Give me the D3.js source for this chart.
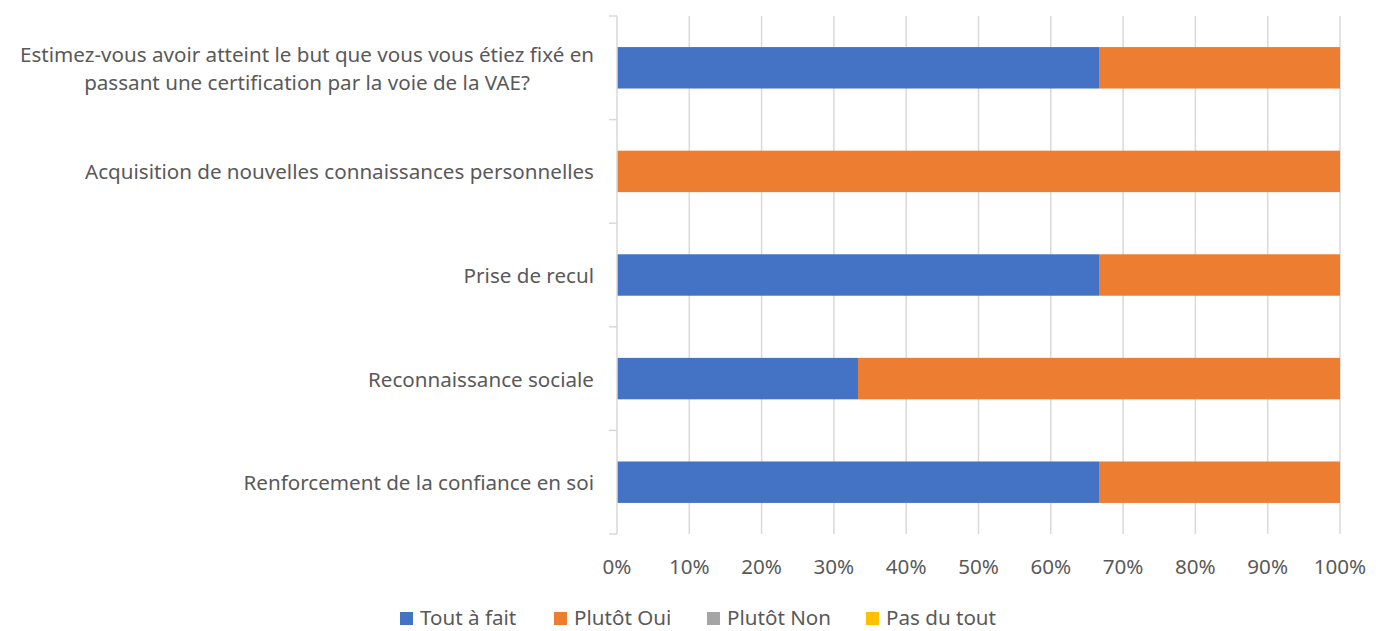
<!DOCTYPE html>
<html>
<head>
<meta charset="utf-8">
<script src="https://cdn.jsdelivr.net/npm/d3@7"></script>
<style>
  body { margin: 0; background: #fff; }
  svg { display: block; font-family: 'Noto Sans', 'Open Sans', sans-serif; }
</style>
</head>
<body>
<div id="chart"></div>
<script>
// categories, top to bottom
const categories = [
  ["Estimez-vous avoir atteint le but que vous vous étiez fixé en", "passant une certification par la voie de la VAE?"],
  ["Acquisition de nouvelles connaissances personnelles"],
  ["Prise de recul"],
  ["Reconnaissance sociale"],
  ["Renforcement de la confiance en soi"]
];
const seriesNames = ["Tout à fait", "Plutôt Oui", "Plutôt Non", "Pas du tout"];
const seriesColors = ["#4472c4", "#ed7d31", "#a5a5a5", "#ffc000"];
const toutAFait = [66.67, 0, 66.67, 33.33, 66.67];
const plutotOui = [33.33, 100, 33.33, 66.67, 33.33];
const plutotNon = [0, 0, 0, 0, 0];
const pasDuTout = [0, 0, 0, 0, 0];
const xTicks = [0, 10, 20, 30, 40, 50, 60, 70, 80, 90, 100];

const width = 1384, height = 631;
const plot = { left: 617, right: 1340, top: 16, bottom: 534 };
const textColor = "#595959";

const svg = d3.select("#chart").append("svg")
  .attr("width", width)
  .attr("height", height);

const x = d3.scaleLinear().domain([0, 100]).range([plot.left, plot.right]);
const y = d3.scaleBand()
  .domain(d3.range(categories.length))
  .range([plot.top, plot.bottom])
  .paddingInner(0.6)
  .paddingOuter(0.3);

// gridlines
svg.append("g")
  .selectAll("line")
  .data(xTicks.slice(1))
  .join("line")
  .attr("x1", d => x(d)).attr("x2", d => x(d))
  .attr("y1", plot.top).attr("y2", plot.bottom)
  .attr("stroke", "#d9d9d9")
  .attr("stroke-width", 1.5);

// stacked data
const rows = categories.map((c, i) => ({
  i,
  values: [toutAFait[i], plutotOui[i], plutotNon[i], pasDuTout[i]]
}));
const segs = [];
rows.forEach(r => {
  let acc = 0;
  r.values.forEach((v, s) => {
    segs.push({ i: r.i, s, x0: acc, x1: acc + v });
    acc += v;
  });
});

svg.append("g")
  .selectAll("rect")
  .data(segs.filter(d => d.x1 > d.x0))
  .join("rect")
  .attr("x", d => x(d.x0))
  .attr("width", d => x(d.x1) - x(d.x0))
  .attr("y", d => y(d.i))
  .attr("height", y.bandwidth())
  .attr("fill", d => seriesColors[d.s]);

// y axis line + ticks
const step = (plot.bottom - plot.top) / categories.length;
svg.append("line")
  .attr("x1", plot.left).attr("x2", plot.left)
  .attr("y1", plot.top).attr("y2", plot.bottom)
  .attr("stroke", "#d9d9d9").attr("stroke-width", 1.5);
svg.append("g")
  .selectAll("line")
  .data(d3.range(categories.length + 1))
  .join("line")
  .attr("x1", plot.left - 8).attr("x2", plot.left)
  .attr("y1", d => plot.top + d * step).attr("y2", d => plot.top + d * step)
  .attr("stroke", "#d9d9d9").attr("stroke-width", 1.5);

// category labels (multi-line block right aligned, lines centred within it)
const labelRight = 594;
const labels = svg.append("g")
  .selectAll("text")
  .data(categories)
  .join("text")
  .attr("fill", textColor)
  .style("font-size", "20.6px")
  .attr("y", (d, i) => y(i) + y.bandwidth() / 2);
labels.each(function(lines) {
  const t = d3.select(this);
  const lh = 28;
  const spans = lines.map((l, k) => t.append("tspan")
    .attr("dy", k === 0 ? (-(lines.length - 1) * lh / 2 + 8) : lh)
    .text(l));
  if (lines.length === 1) {
    t.attr("text-anchor", "end");
    spans[0].attr("x", labelRight);
  } else {
    const maxW = d3.max(spans, s => s.node().getComputedTextLength());
    t.attr("text-anchor", "middle");
    spans.forEach(s => s.attr("x", labelRight - maxW / 2));
  }
});

// x tick labels
svg.append("g")
  .selectAll("text")
  .data(xTicks)
  .join("text")
  .attr("x", d => x(d))
  .attr("y", 574)
  .attr("text-anchor", "middle")
  .attr("fill", textColor)
  .style("font-size", "20.6px")
  .text(d => d + "%");

// legend
const legendX = [400, 554, 707, 866];
const legend = svg.append("g")
  .selectAll("g")
  .data(seriesNames)
  .join("g")
  .attr("transform", (d, i) => `translate(${legendX[i]}, 612)`);
legend.append("rect")
  .attr("width", 13).attr("height", 13)
  .attr("fill", (d, i) => seriesColors[i]);
legend.append("text")
  .attr("x", 20).attr("y", 13)
  .attr("fill", textColor)
  .style("font-size", "20.6px")
  .text(d => d);
</script>
</body>
</html>
